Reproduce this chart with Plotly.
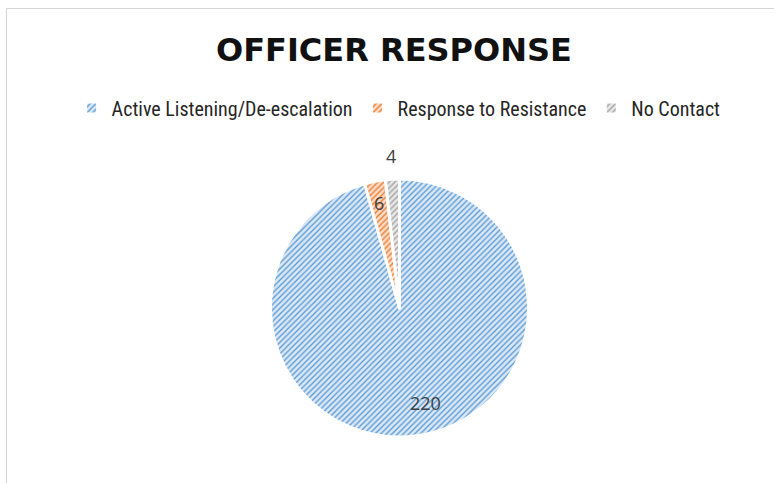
import math
import plotly.graph_objects as go

categories = ["Active Listening/De-escalation", "Response to Resistance", "No Contact"]
values = [220, 6, 4]
line_colors = ["#5B9BD5", "#ED7D31", "#A5A5A5"]
fill_colors = ["#DCE8F6", "#FBDCC8", "#E6E6E6"]
title_text = "OFFICER RESPONSE"

W, H = 774, 483
cx, cy, R = 399.5, 308.0, 129.0  # pie centre / radius in pixels

# label placement style: radial factor of the radius, extra pixel shifts
label_radius = [0.74, 0.83, 1.18]
label_xshift = [13, 0, 0]

fig = go.Figure()
fig.add_trace(go.Pie(
    labels=categories,
    values=values,
    sort=False,
    direction="clockwise",
    rotation=0,
    marker=dict(
        colors=fill_colors,
        line=dict(color="white", width=3),
        pattern=dict(shape="/", fgcolor=line_colors, bgcolor=fill_colors,
                     size=4, solidity=0.35, fillmode="replace"),
    ),
    textinfo="none",
    domain=dict(x=[(cx - R) / W, (cx + R) / W], y=[1 - (cy + R) / H, 1 - (cy - R) / H]),
    hoverinfo="label+value",
    showlegend=True,
))

# data labels placed on each slice's bisector, computed from the values
total = sum(values)
cum = 0
for i, v in enumerate(values):
    mid = (cum + v / 2) / total * 2 * math.pi
    cum += v
    rr = label_radius[i] * R
    px = cx + rr * math.sin(mid)
    py = cy - rr * math.cos(mid)
    fig.add_annotation(x=px / W, y=1 - py / H, xref="paper", yref="paper",
                       xanchor="center", yanchor="middle",
                       text=str(v), showarrow=False, xshift=label_xshift[i],
                       font=dict(family="Open Sans, Calibri, sans-serif", size=18, color="#404040"))

fig.add_shape(type="rect", xref="paper", yref="paper",
              x0=6.5 / W, x1=1.05, y0=-0.05, y1=1 - 8.5 / H,
              line=dict(color="#D4D4D4", width=1), fillcolor="rgba(0,0,0,0)", layer="below")

fig.update_layout(
    width=W, height=H,
    margin=dict(l=0, r=0, t=0, b=0),
    paper_bgcolor="white",
    plot_bgcolor="white",
    title=dict(text="<b>" + title_text + "</b>", x=0.509, xanchor="center", y=1 - 50 / H, yanchor="middle",
               font=dict(family="DejaVu Sans, sans-serif", size=32, color="#111111")),
    legend=dict(orientation="h", x=0.515, xanchor="center", y=1 - 108 / H, yanchor="middle",
                font=dict(family="Liberation Sans Narrow, Roboto Condensed, Arial Narrow, sans-serif", size=20, color="#262626"),
                itemwidth=30, traceorder="normal"),
)

fig.write_html("out.html", config={"displayModeBar": False},
               post_script="document.body.style.margin='0';document.body.style.overflow='hidden';")
